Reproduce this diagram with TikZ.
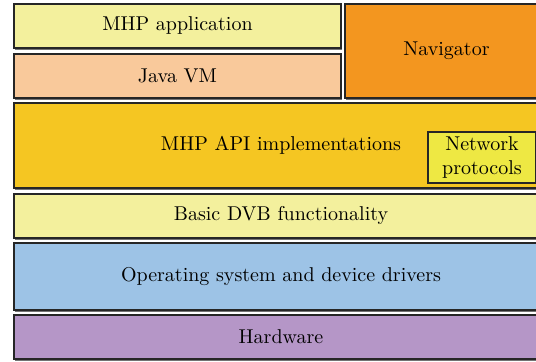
\documentclass[tikz,border=0pt]{standalone}
\usetikzlibrary{shadows}

\definecolor{appyellow}{HTML}{F3F09D}
\definecolor{javapeach}{HTML}{F9C99B}
\definecolor{navorange}{HTML}{F3961F}
\definecolor{apigold}{HTML}{F5C622}
\definecolor{netyellow}{HTML}{EEE843}
\definecolor{osblue}{HTML}{9DC3E6}
\definecolor{hwpurple}{HTML}{B596C7}

\tikzset{
  layer/.style={draw=black!85, line width=0.8pt, inner sep=0pt, outer sep=0pt,
    drop shadow={shadow xshift=0.4pt, shadow yshift=-1.1pt, fill=black!55, opacity=1}},
}

\begin{document}
\begin{tikzpicture}[x=0.5pt, y=-0.5pt]
% fix the page to the reference size
\useasboundingbox (0,0) rectangle (536,362);
\clip (0,0) rectangle (536,362);

% top row: application, VM and navigator
\node [layer, fill=appyellow, minimum width=163.5pt, minimum height=22pt] (app) at (177.5,26) {MHP application};
\node [layer, fill=javapeach, minimum width=163.5pt, minimum height=22pt] (jvm) at (177.5,76) {Java VM};
\node [layer, fill=navorange, minimum width=101.5pt, minimum height=47pt] (nav) at (446.5,51) {Navigator};

% API layer with network protocols inside
\node [layer, fill=apigold, minimum width=267pt, minimum height=42.5pt] (api) at (281,145.5) {MHP API implementations};
\node [draw=black!85, line width=0.7pt, fill=netyellow, inner sep=0pt, align=center,
  minimum width=54pt, minimum height=25.5pt] (net) at (482,157.5)
  {\baselineskip=10pt Network\\protocols};

% lower layers
\node [layer, fill=appyellow, minimum width=267pt, minimum height=22pt] (dvb) at (281,216) {Basic DVB functionality};
\node [layer, fill=osblue, minimum width=267pt, minimum height=33.5pt] (os) at (281,276.5) {Operating system and device drivers};
\node [layer, fill=hwpurple, minimum width=267pt, minimum height=22pt] (hw) at (281,337) {Hardware};

\end{tikzpicture}
\end{document}
